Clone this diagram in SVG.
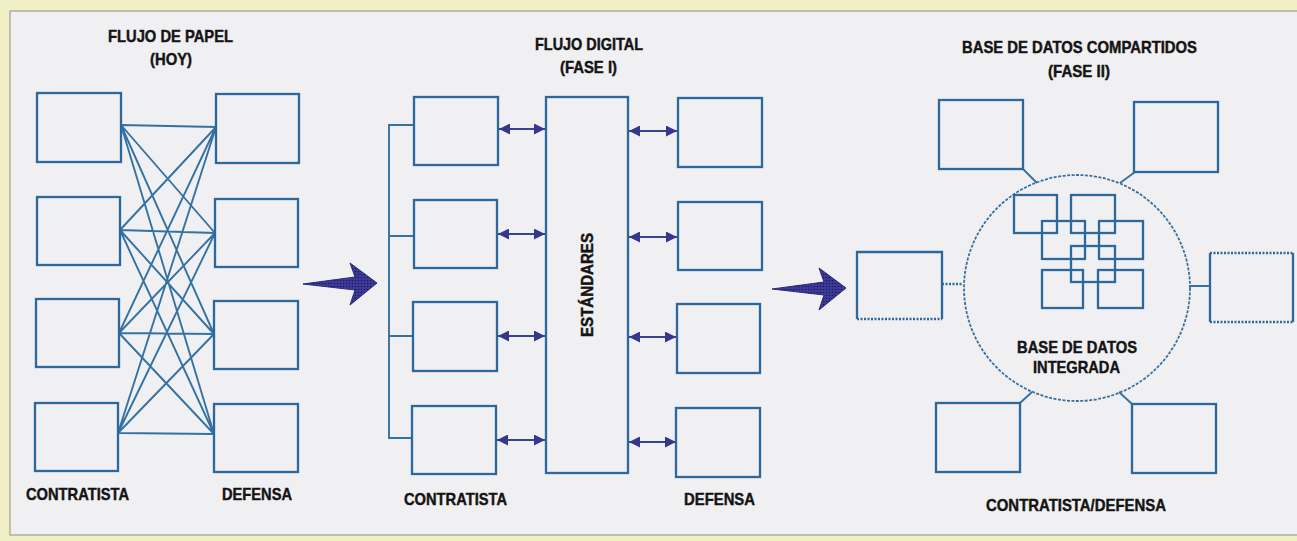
<svg xmlns="http://www.w3.org/2000/svg" width="1297" height="541" viewBox="0 0 1297 541">
<style>
.t{font-family:"Liberation Sans",Arial,sans-serif;font-weight:bold;font-size:17px;fill:#141414;stroke:#141414;stroke-width:0.45;text-anchor:middle}
.b{fill:none;stroke:#2d689c;stroke-width:2.3}
.c{fill:none;stroke:#3472a4;stroke-width:1.9}
.d{fill:none;stroke:#2d689c;stroke-width:2.3;stroke-dasharray:2 1.5}
.a{fill:none;stroke:#34448e;stroke-width:2.2;marker-start:url(#ah);marker-end:url(#ah)}
.big{fill:url(#dots);stroke:#2c2a78;stroke-width:1}
</style>
<defs>
<marker id="ah" markerUnits="userSpaceOnUse" markerWidth="11" markerHeight="11" viewBox="0 0 10 10" refX="10" refY="5" orient="auto-start-reverse">
<path d="M0,0 L10,5 L0,10 z" fill="#34378c"/>
</marker>
<pattern id="dots" patternUnits="userSpaceOnUse" width="3" height="3">
<rect width="3" height="3" fill="#3d3a9a"/>
<circle cx="1.5" cy="1.5" r="0.8" fill="#1c1a55"/>
</pattern>
</defs>
<rect x="0" y="0" width="1297" height="541" fill="#f1efc6"/>
<rect x="10" y="11" width="1290" height="524" fill="#f0f0f2" stroke="#8f8f80" stroke-width="1"/>

<g id="titles">
<text class="t" x="170.5" y="42" textLength="125" lengthAdjust="spacingAndGlyphs">FLUJO DE PAPEL</text>
<text class="t" x="171" y="65" textLength="42" lengthAdjust="spacingAndGlyphs">(HOY)</text>
<text class="t" x="589" y="50" textLength="108" lengthAdjust="spacingAndGlyphs">FLUJO DIGITAL</text>
<text class="t" x="588.5" y="73" textLength="57" lengthAdjust="spacingAndGlyphs">(FASE I)</text>
<text class="t" x="1079.5" y="53" textLength="235" lengthAdjust="spacingAndGlyphs">BASE DE DATOS COMPARTIDOS</text>
<text class="t" x="1079" y="77" textLength="62" lengthAdjust="spacingAndGlyphs">(FASE II)</text>
<text class="t" x="77.5" y="500" textLength="103" lengthAdjust="spacingAndGlyphs">CONTRATISTA</text>
<text class="t" x="257" y="500" textLength="70" lengthAdjust="spacingAndGlyphs">DEFENSA</text>
<text class="t" x="455.5" y="505" textLength="103" lengthAdjust="spacingAndGlyphs">CONTRATISTA</text>
<text class="t" x="719.5" y="505" textLength="71" lengthAdjust="spacingAndGlyphs">DEFENSA</text>
<text class="t" x="1076" y="511" textLength="180" lengthAdjust="spacingAndGlyphs">CONTRATISTA/DEFENSA</text>
</g>

<g id="connectors">
<path class="c" d="M121,125 L216,127 M121,125 L215,233 M121,125 L214,334 M121,125 L214,434
M120,230 L216,127 M120,230 L215,233 M120,230 L214,334 M120,230 L214,434
M119,333 L216,127 M119,333 L215,233 M119,333 L214,334 M119,333 L214,434
M118,433 L216,127 M118,433 L215,233 M118,433 L214,334 M118,433 L214,434"/>
<path class="c" d="M414,125 H389 V438 H413 M389,236 H414 M389,336 H413"/>
<path class="a" d="M499,129 H545"/>
<path class="a" d="M498,234 H545"/>
<path class="a" d="M498,336 H545"/>
<path class="a" d="M497,440 H545"/>
<path class="a" d="M629,131 H677"/>
<path class="a" d="M629,237 H677"/>
<path class="a" d="M629,337 H676"/>
<path class="a" d="M629,442 H676"/>
<path class="c" d="M1023,169 L1037,183 M1135,172 L1120,183 M1020,403 L1032,392 M1132,404 L1119,392 M1189,286 H1210"/>
<path class="d" d="M942,284 H963"/>
</g>

<g id="arrow1"><path class="big" d="M303,284 L355,277 L350,263 L377,283 L350,305 L355,290 Z"/></g>
<g id="arrow2"><path class="big" d="M772,289 L824,282 L819,268 L846,288 L819,310 L824,295 Z"/></g>

<g id="paper-contratista">
<rect class="b" x="37" y="93" width="84" height="69"/>
<rect class="b" x="37" y="197" width="83" height="68"/>
<rect class="b" x="36" y="299" width="83" height="68"/>
<rect class="b" x="35" y="403" width="83" height="68"/>
</g>
<g id="paper-defensa">
<rect class="b" x="216" y="94" width="83" height="69"/>
<rect class="b" x="215" y="199" width="83" height="68"/>
<rect class="b" x="214" y="301" width="84" height="68"/>
<rect class="b" x="214" y="404" width="84" height="68"/>
</g>

<g id="digital-contratista">
<rect class="b" x="414" y="97" width="84" height="68"/>
<rect class="b" x="414" y="200" width="83" height="68"/>
<rect class="b" x="413" y="302" width="84" height="69"/>
<rect class="b" x="412" y="406" width="84" height="68"/>
</g>
<g id="estandares">
<rect class="b" x="546" y="97" width="82" height="376"/>
<text class="t" transform="translate(593,285) rotate(-90)" x="0" y="0" textLength="104" lengthAdjust="spacingAndGlyphs">ESTÁNDARES</text>
</g>
<g id="digital-defensa">
<rect class="b" x="678" y="98" width="84" height="69"/>
<rect class="b" x="678" y="202" width="84" height="68"/>
<rect class="b" x="677" y="304" width="83" height="69"/>
<rect class="b" x="676" y="408" width="84" height="69"/>
</g>

<g id="base-datos">
<circle cx="1077" cy="288" r="113" fill="none" stroke="#3a6fa0" stroke-width="1.8" stroke-dasharray="3 1.5"/>
<rect class="b" x="1014" y="195" width="43" height="38"/>
<rect class="b" x="1071" y="195" width="44" height="38"/>
<rect class="b" x="1042" y="221" width="43" height="38"/>
<rect class="b" x="1099" y="221" width="44" height="38"/>
<rect class="b" x="1071" y="246" width="44" height="36"/>
<rect class="b" x="1042" y="270" width="41" height="38"/>
<rect class="b" x="1098" y="270" width="45" height="38"/>
<text class="t" x="1077" y="353" textLength="120" lengthAdjust="spacingAndGlyphs">BASE DE DATOS</text>
<text class="t" x="1076.5" y="373" textLength="87" lengthAdjust="spacingAndGlyphs">INTEGRADA</text>
</g>

<g id="fase2-nodes">
<rect class="b" x="939" y="100" width="84" height="69"/>
<rect class="b" x="1134" y="102" width="84" height="70"/>
<path class="b" d="M857,319 V252 H942 V319"/>
<path class="d" d="M857,319 H942"/>
<path class="b" d="M1210,253 V322 M1293,253 V322"/>
<path class="d" d="M1210,253 H1293 M1210,322 H1293"/>
<rect class="b" x="936" y="403" width="84" height="69"/>
<rect class="b" x="1132" y="404" width="84" height="69"/>
</g>
</svg>
